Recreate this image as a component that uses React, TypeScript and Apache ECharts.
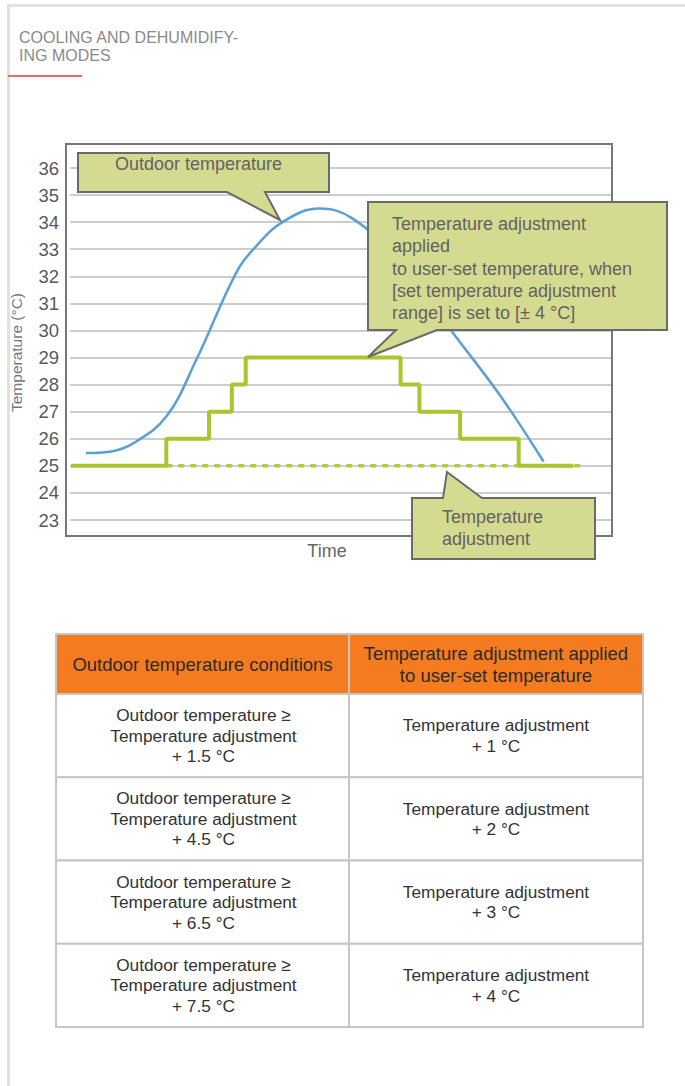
import React, { useEffect, useRef } from "react";
import * as echarts from "echarts";

// ---- data ----
const outdoorTime = [16, 40, 64, 97, 127, 167, 186, 214, 251, 284, 334, 384, 434, 477];
const outdoorTemp = [25.47, 25.52, 25.84, 26.82, 28.9, 32.1, 33.05, 34.0, 34.5, 34.15, 32.5, 30.0, 27.56, 25.16];
const stepTime = [1, 97, 140, 163, 177, 333, 352, 393, 452, 507];
const stepTemp = [25, 26, 27, 28, 29, 28, 27, 26, 25, 25];
const baseTime = [97, 514];
const baseTemp = [25, 25];
const yMin = 23;
const yMax = 36;
const conditionOffsets = [1.5, 4.5, 6.5, 7.5];
const adjustments = [1, 2, 3, 4];

const FONT = "'Liberation Sans', Arial, Helvetica, sans-serif";

function txt(x: number, y: number, text: string, size: number, fill: string, align = "left", vAlign = "middle", lineHeight?: number, z = 100) {
  return {
    type: "text",
    x,
    y,
    z,
    style: {
      text,
      fontSize: size,
      fontFamily: FONT,
      fill,
      align,
      verticalAlign: vAlign,
      textAlign: align,
      textVerticalAlign: vAlign,
      lineHeight: lineHeight || Math.round(size * 1.2),
    },
  };
}

export default function App() {
  const ref = useRef<HTMLDivElement>(null);
  useEffect(() => {
    if (!ref.current) return;
    const chart = echarts.init(ref.current, null, { renderer: "svg" });

    const calloutStyle = { fill: "#d4db91", stroke: "#6a6a6a", lineWidth: 2 };

    // table
    const tX0 = 56, tX1 = 349, tX2 = 643;
    const hY0 = 634, hY1 = 694;
    const rowH = 83.25;
    const tableEls: any[] = [];
    tableEls.push({ type: "rect", z: 50, shape: { x: tX0, y: hY0, width: tX1 - tX0, height: hY1 - hY0 }, style: { fill: "#f47b20", stroke: "#c6c6c6", lineWidth: 2 } });
    tableEls.push({ type: "rect", z: 50, shape: { x: tX1, y: hY0, width: tX2 - tX1, height: hY1 - hY0 }, style: { fill: "#f47b20", stroke: "#c6c6c6", lineWidth: 2 } });
    tableEls.push(txt((tX0 + tX1) / 2, (hY0 + hY1) / 2, "Outdoor temperature conditions", 18.5, "#2b2b2b", "center", "middle", 22, 60));
    tableEls.push(txt((tX1 + tX2) / 2, (hY0 + hY1) / 2, "Temperature adjustment applied\nto user-set temperature", 18.5, "#2b2b2b", "center", "middle", 22, 60));
    conditionOffsets.forEach((off, i) => {
      const y0 = hY1 + i * rowH;
      tableEls.push({ type: "rect", z: 50, shape: { x: tX0, y: y0, width: tX1 - tX0, height: rowH }, style: { fill: "#ffffff", stroke: "#c6c6c6", lineWidth: 2 } });
      tableEls.push({ type: "rect", z: 50, shape: { x: tX1, y: y0, width: tX2 - tX1, height: rowH }, style: { fill: "#ffffff", stroke: "#c6c6c6", lineWidth: 2 } });
      tableEls.push(txt((tX0 + tX1) / 2 + 1, y0 + rowH / 2, `Outdoor temperature ≥\nTemperature adjustment\n+ ${off} °C`, 17.3, "#333333", "center", "middle", 20.5, 60));
      tableEls.push(txt((tX1 + tX2) / 2, y0 + rowH / 2, `Temperature adjustment\n+ ${adjustments[i]} °C`, 17.3, "#333333", "center", "middle", 20.5, 60));
    });

    const option: any = {
      animation: false,
      textStyle: { fontFamily: FONT },
      grid: { left: 66, right: 73, top: 168, bottom: 566, containLabel: false },
      xAxis: {
        type: "value",
        min: 0,
        max: 546,
        axisLine: { show: false },
        axisTick: { show: false },
        axisLabel: { show: false },
        splitLine: { show: false },
        name: "Time",
        nameLocation: "middle",
        nameGap: 22,
        nameTextStyle: { fontSize: 18, color: "#666666", padding: [0, 28, 0, 0] },
      },
      yAxis: {
        type: "value",
        min: yMin,
        max: yMax,
        interval: 1,
        axisLine: { show: false },
        axisTick: { show: false },
        axisLabel: { fontSize: 18.5, color: "#595959", margin: 11 },
        splitLine: { show: true, lineStyle: { color: "#bdbdbd", width: 1.5 } },
        name: "Temperature (°C)",
        nameLocation: "middle",
        nameGap: 46,
        nameRotate: 90,
        nameTextStyle: { fontSize: 15.5, color: "#777777", padding: [0, 17, 0, 0] },
      },
      series: [
        {
          type: "line",
          data: baseTime.map((t, i) => [t, baseTemp[i]]),
          showSymbol: false,
          symbol: "none",
          lineStyle: { color: "#b2cc3a", width: 3.5, type: [6, 6] },
          z: 2,
        },
        {
          type: "line",
          data: stepTime.map((t, i) => [t, stepTemp[i]]),
          step: "end",
          showSymbol: false,
          symbol: "none",
          lineStyle: { color: "#a9c52f", width: 4 },
          z: 3,
        },
        {
          type: "line",
          data: outdoorTime.map((t, i) => [t, outdoorTemp[i]]),
          smooth: 0.4,
          showSymbol: false,
          symbol: "none",
          lineStyle: { color: "#5aa0d6", width: 2.5 },
          z: 4,
        },
      ],
      graphic: [
        // page borders
        { type: "rect", z: 1, shape: { x: 7, y: 4, width: 678, height: 3 }, style: { fill: "#e1e1e1" } },
        { type: "rect", z: 1, shape: { x: 7, y: 4, width: 3, height: 1082 }, style: { fill: "#e1e1e1" } },
        // title
        txt(19, 28, "COOLING AND DEHUMIDIFY-\nING MODES", 16, "#8a8a8a", "left", "top", 18.5, 5),
        { type: "rect", z: 5, shape: { x: 8, y: 75, width: 74, height: 2 }, style: { fill: "#f06868" } },
        // plot frame
        { type: "rect", z: 10, shape: { x: 66, y: 144, width: 546, height: 392 }, style: { fill: "none", stroke: "#777777", lineWidth: 2 } },
        // callout 1
        {
          type: "polygon",
          z: 100,
          shape: { points: [[78, 153], [329, 153], [329, 192], [265, 192], [280, 220], [227, 192], [78, 192]] },
          style: calloutStyle,
        },
        txt(115, 164, "Outdoor temperature", 18, "#626262", "left", "middle", 22, 101),
        // callout 2
        {
          type: "polygon",
          z: 100,
          shape: { points: [[368, 202], [667, 202], [667, 330], [437, 330], [368, 357], [396, 330], [368, 330]] },
          style: calloutStyle,
        },
        txt(392, 212.5, "Temperature adjustment\napplied\nto user-set temperature, when\n[set temperature adjustment\nrange] is set to [± 4 °C]", 18, "#626262", "left", "top", 22.4, 101),
        // callout 3
        {
          type: "polygon",
          z: 100,
          shape: { points: [[412, 498], [443, 498], [447, 472], [482, 498], [595, 498], [595, 559], [412, 559]] },
          style: calloutStyle,
        },
        txt(442, 506, "Temperature\nadjustment", 18, "#626262", "left", "top", 22, 101),
        ...tableEls,
      ],
    };
    chart.setOption(option);
    return () => chart.dispose();
  }, []);
  return (
    <div
      ref={ref}
      style={{ position: "fixed", left: 0, top: 0, width: 685, height: 1086, background: "#ffffff" }}
    />
  );
}
